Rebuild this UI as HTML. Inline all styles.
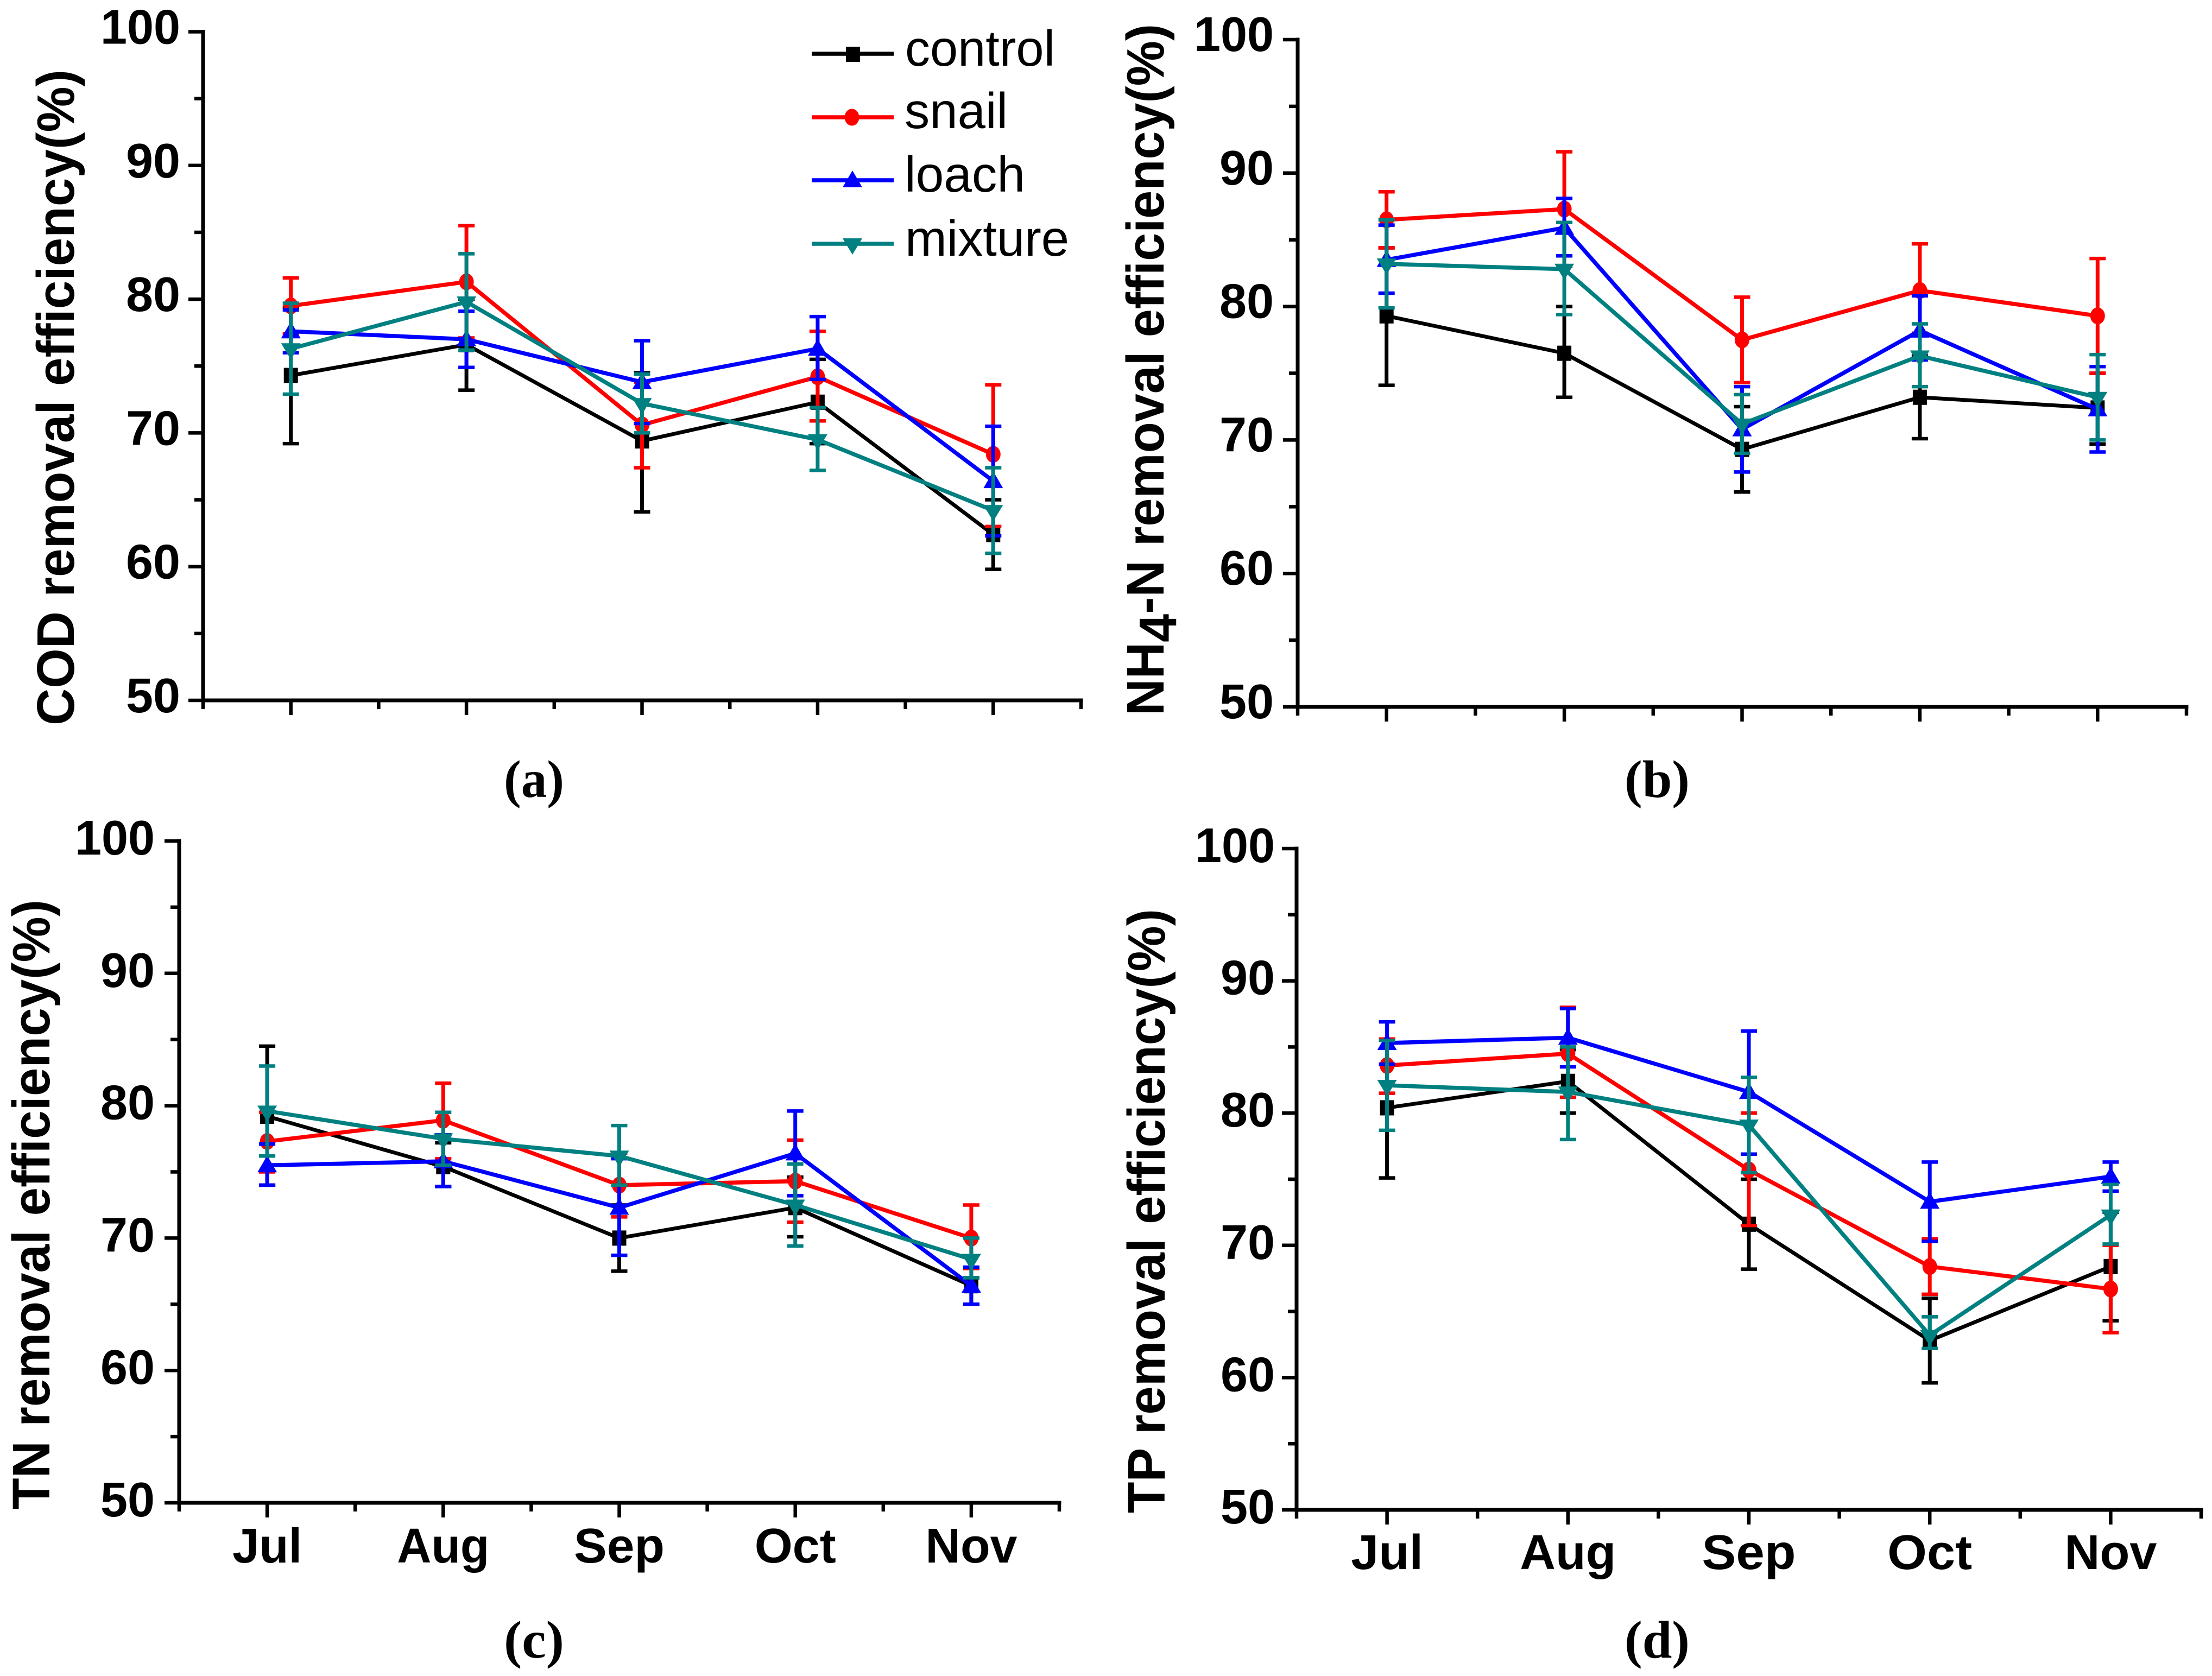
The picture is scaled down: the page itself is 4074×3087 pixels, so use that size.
<!DOCTYPE html>
<html lang="en">
<head>
<meta charset="utf-8">
<title>Removal efficiency charts</title>
<style>
html,body{margin:0;padding:0;background:#fff;}
svg{display:block;}
.tick{font:bold 90px "Liberation Sans",sans-serif;fill:#000;}
.month{font:bold 90px "Liberation Sans",sans-serif;fill:#000;}
.title{font:bold 97px "Liberation Sans",sans-serif;fill:#000;}
.legend{font:93px "Liberation Sans",sans-serif;fill:#000;}
.cap{font:bold 98px "Liberation Serif",serif;fill:#000;}
</style>
</head>
<body>
<svg id="chart" xmlns="http://www.w3.org/2000/svg" width="4074" height="3087" viewBox="0 0 4074 3087">
<rect x="0" y="0" width="4074" height="3087" fill="#fff"/>

<text class="title" transform="translate(136,1336) rotate(-90)" textLength="1208" lengthAdjust="spacingAndGlyphs">COD removal efficiency(%)</text>
<text class="title" transform="translate(2143,1318) rotate(-90)" textLength="1274" lengthAdjust="spacingAndGlyphs">NH<tspan dy="23">4</tspan><tspan dy="-23">-N removal efficiency(%)</tspan></text>
<text class="title" transform="translate(91,2780) rotate(-90)" textLength="1123" lengthAdjust="spacingAndGlyphs">TN removal efficiency(%)</text>
<text class="title" transform="translate(2145,2787) rotate(-90)" textLength="1113" lengthAdjust="spacingAndGlyphs">TP removal efficiency(%)</text>

<text class="cap" x="928" y="1468" textLength="111" lengthAdjust="spacingAndGlyphs">(a)</text>
<text class="cap" x="2992" y="1468" textLength="120" lengthAdjust="spacingAndGlyphs">(b)</text>
<text class="cap" x="928" y="3053" textLength="111" lengthAdjust="spacingAndGlyphs">(c)</text>
<text class="cap" x="2992" y="3053" textLength="120" lengthAdjust="spacingAndGlyphs">(d)</text>

<g id="panels"></g>

<g>
  <g>
    <line x1="1495" x2="1646" y1="99" y2="99" stroke="#000" stroke-width="7.5"/>
    <rect x="1558" y="86" width="26" height="28" fill="#000"/>
    <text class="legend" x="1667" y="121" textLength="276" lengthAdjust="spacingAndGlyphs">control</text>
  </g>
  <g>
    <line x1="1495" x2="1646" y1="216" y2="216" stroke="#f00" stroke-width="7.5"/>
    <ellipse cx="1569" cy="216" rx="13.5" ry="15.5" fill="#f00"/>
    <text class="legend" x="1666" y="236" textLength="190" lengthAdjust="spacingAndGlyphs">snail</text>
  </g>
  <g>
    <line x1="1495" x2="1646" y1="332" y2="332" stroke="#00f" stroke-width="7.5"/>
    <polygon points="1570,314 1588,345 1552,345" fill="#00f"/>
    <text class="legend" x="1666" y="353" textLength="222" lengthAdjust="spacingAndGlyphs">loach</text>
  </g>
  <g>
    <line x1="1495" x2="1646" y1="449" y2="449" stroke="#008080" stroke-width="7.5"/>
    <polygon points="1552,439 1588,439 1570,469" fill="#008080"/>
    <text class="legend" x="1667" y="471" textLength="302" lengthAdjust="spacingAndGlyphs">mixture</text>
  </g>
</g>
</svg>

<script>
const months = ['Jul', 'Aug', 'Sep', 'Oct', 'Nov'];
const yTickLabels = [100, 90, 80, 70, 60, 50];
const yMinorTicks = [95, 85, 75, 65, 55];
const monthTextWidthsC = [128, 170, 167, 150, 169];
const monthTextWidthsD = [133, 177, 173, 156, 170];

// (a) COD
const codControl = [74.3, 76.6, 69.4, 72.3, 62.4];
const codControlHi = [79.4, 80.0, 74.5, 75.5, 65.0];
const codControlLo = [69.2, 73.2, 64.1, 69.2, 59.8];
const codSnail = [79.5, 81.3, 70.6, 74.2, 68.4];
const codSnailHi = [81.6, 85.5, 73.8, 77.6, 73.6];
const codSnailLo = [77.4, 77.1, 67.4, 70.9, 63.0];
const codLoach = [77.6, 77.0, 73.8, 76.3, 66.4];
const codLoachHi = [79.2, 79.1, 76.9, 78.7, 70.5];
const codLoachLo = [76.0, 74.9, 70.7, 74.0, 62.3];
const codMixture = [76.3, 79.8, 72.2, 69.5, 64.2];
const codMixtureHi = [79.7, 83.4, 74.4, 71.9, 67.4];
const codMixtureLo = [72.9, 76.2, 70.0, 67.2, 61.0];

// (b) NH4-N
const nhControl = [79.3, 76.5, 69.3, 73.2, 72.4];
const nhControlHi = [84.4, 80.0, 72.5, 76.3, 75.0];
const nhControlLo = [74.1, 73.2, 66.1, 70.1, 69.7];
const nhSnail = [86.5, 87.3, 77.5, 81.2, 79.3];
const nhSnailHi = [88.6, 91.6, 80.7, 84.7, 83.6];
const nhSnailLo = [84.4, 83.0, 74.3, 78.0, 75.0];
const nhLoach = [83.5, 85.9, 70.8, 78.2, 72.3];
const nhLoachHi = [86.1, 88.1, 74.0, 80.8, 75.5];
const nhLoachLo = [81.0, 83.8, 67.6, 76.0, 69.1];
const nhMixture = [83.2, 82.8, 71.2, 76.3, 73.2];
const nhMixtureHi = [86.5, 86.3, 73.4, 78.7, 76.4];
const nhMixtureLo = [79.9, 79.4, 69.0, 74.0, 70.0];

// (c) TN
const tnControl = [79.2, 75.4, 70.0, 72.3, 66.4];
const tnControlHi = [84.5, 77.2, 72.5, 74.6, 67.0];
const tnControlLo = [74.0, 73.9, 67.5, 70.1, 65.0];
const tnSnail = [77.3, 78.9, 74.0, 74.3, 70.0];
const tnSnailHi = [79.5, 81.7, 76.4, 77.4, 72.5];
const tnSnailLo = [75.0, 76.0, 71.6, 71.2, 67.7];
const tnLoach = [75.5, 75.8, 72.3, 76.4, 66.4];
const tnLoachHi = [77.1, 77.8, 76.0, 79.6, 67.8];
const tnLoachLo = [74.0, 73.9, 68.7, 73.2, 65.0];
const tnMixture = [79.6, 77.5, 76.2, 72.5, 68.4];
const tnMixtureHi = [83.0, 79.5, 78.5, 75.6, 70.0];
const tnMixtureLo = [76.2, 75.5, 74.0, 69.4, 67.0];

// (d) TP
const tpControl = [80.4, 82.4, 71.6, 62.8, 68.4];
const tpControlHi = [85.5, 84.8, 75.0, 66.0, 72.5];
const tpControlLo = [75.1, 80.0, 68.2, 59.6, 64.3];
const tpSnail = [83.6, 84.5, 75.7, 68.4, 66.7];
const tpSnailHi = [85.6, 88.0, 80.0, 70.5, 70.0];
const tpSnailLo = [81.5, 81.2, 71.5, 66.3, 63.4];
const tpLoach = [85.3, 85.7, 81.6, 73.3, 75.2];
const tpLoachHi = [86.9, 87.9, 86.2, 76.3, 76.3];
const tpLoachLo = [83.7, 83.5, 76.9, 70.3, 74.1];
const tpMixture = [82.1, 81.6, 79.1, 63.2, 72.3];
const tpMixtureHi = [85.5, 85.0, 82.7, 64.6, 74.6];
const tpMixtureLo = [78.7, 78.0, 75.5, 62.2, 70.1];

const NS = 'http://www.w3.org/2000/svg';
const root = document.getElementById('panels');

function make(tag, attrs, parent) {
  const el = document.createElementNS(NS, tag);
  for (const k in attrs) el.setAttribute(k, attrs[k]);
  parent.appendChild(el);
  return el;
}

function seriesList(ctl, ctlHi, ctlLo, sn, snHi, snLo, lo, loHi, loLo, mx, mxHi, mxLo) {
  return [
    { name: 'control', color: '#000000', shape: 'square', lw: 7, v: ctl, hi: ctlHi, lo: ctlLo },
    { name: 'snail', color: '#ff0000', shape: 'circle', lw: 7.5, v: sn, hi: snHi, lo: snLo },
    { name: 'loach', color: '#0000ff', shape: 'up', lw: 7.5, v: lo, hi: loHi, lo: loLo },
    { name: 'mixture', color: '#008080', shape: 'down', lw: 7.5, v: mx, hi: mxHi, lo: mxLo }
  ];
}

const panels = [
  { id: 'cod', left: 374, right: 1991, top: 58.5, bottom: 1290, labelRight: 332, labelDy: 22, monthBase: null, monthW: null,
    series: seriesList(codControl, codControlHi, codControlLo, codSnail, codSnailHi, codSnailLo, codLoach, codLoachHi, codLoachLo, codMixture, codMixtureHi, codMixtureLo) },
  { id: 'nh4', left: 2390, right: 4027, top: 73, bottom: 1302, labelRight: 2346, labelDy: 21, monthBase: null, monthW: null,
    series: seriesList(nhControl, nhControlHi, nhControlLo, nhSnail, nhSnailHi, nhSnailLo, nhLoach, nhLoachHi, nhLoachLo, nhMixture, nhMixtureHi, nhMixtureLo) },
  { id: 'tn', left: 330, right: 1951, top: 1549, bottom: 2768, labelRight: 285, labelDy: 25, monthBase: 2878, monthW: monthTextWidthsC,
    series: seriesList(tnControl, tnControlHi, tnControlLo, tnSnail, tnSnailHi, tnSnailLo, tnLoach, tnLoachHi, tnLoachLo, tnMixture, tnMixtureHi, tnMixtureLo) },
  { id: 'tp', left: 2388, right: 4054, top: 1563, bottom: 2781, labelRight: 2348, labelDy: 25, monthBase: 2890, monthW: monthTextWidthsD,
    series: seriesList(tpControl, tpControlHi, tpControlLo, tpSnail, tpSnailHi, tpSnailLo, tpLoach, tpLoachHi, tpLoachLo, tpMixture, tpMixtureHi, tpMixtureLo) }
];

function xScale(p, i) {
  return p.left + (i + 0.5) * (p.right - p.left) / months.length;
}
function yScale(p, v) {
  return p.bottom - (v - 50) * (p.bottom - p.top) / 50;
}

function drawMarker(s, x, y, g) {
  let m;
  if (s.shape === 'square') {
    m = make('rect', { x: x - 13, y: y - 14, width: 26, height: 28, fill: s.color }, g);
  } else if (s.shape === 'circle') {
    m = make('ellipse', { cx: x, cy: y, rx: 13.5, ry: 15.5, fill: s.color }, g);
  } else if (s.shape === 'up') {
    m = make('polygon', { points: [x, y - 18, x + 18, y + 13, x - 18, y + 13].join(' '), fill: s.color }, g);
  } else {
    m = make('polygon', { points: [x - 18, y - 10, x + 18, y - 10, x, y + 20].join(' '), fill: s.color }, g);
  }
  
  
}

function drawAxes(p, g) {
  const xAxis = make('line', { x1: p.left - 3.5, x2: p.right + 3.5, y1: p.bottom, y2: p.bottom, stroke: '#000', 'stroke-width': 7 }, g);
  
  
  const yAxis = make('line', { x1: p.left, x2: p.left, y1: p.top - 3.5, y2: p.bottom + 3.5, stroke: '#000', 'stroke-width': 7 }, g);
  
  

  yTickLabels.forEach(function (v) {
    const y = yScale(p, v);
    const t = make('line', { x1: p.left - 27, x2: p.left, y1: y, y2: y, stroke: '#000', 'stroke-width': 6.5 }, g);
    
    
    const w = String(v).length === 3 ? 147 : 100;
    const lab = make('text', { class: 'tick', x: p.labelRight - w, y: y + p.labelDy, textLength: w, lengthAdjust: 'spacingAndGlyphs' }, g);
    lab.textContent = String(v);
    
    
  });
  yMinorTicks.forEach(function (v) {
    const y = yScale(p, v);
    const t = make('line', { x1: p.left - 16, x2: p.left, y1: y, y2: y, stroke: '#000', 'stroke-width': 6.5 }, g);
    
    
  });
  months.forEach(function (mName, i) {
    const x = xScale(p, i);
    const t = make('line', { x1: x, x2: x, y1: p.bottom, y2: p.bottom + 27, stroke: '#000', 'stroke-width': 6.5 }, g);
    
    
    if (p.monthBase !== null) {
      const w = p.monthW[i];
      const lab = make('text', { class: 'month', x: x - w / 2, y: p.monthBase, textLength: w, lengthAdjust: 'spacingAndGlyphs' }, g);
      lab.textContent = mName;
      
      
    }
  });
  for (let i = 0; i <= months.length; i++) {
    const x = xScale(p, i - 0.5);
    const t = make('line', { x1: x, x2: x, y1: p.bottom, y2: p.bottom + 16, stroke: '#000', 'stroke-width': 6.5 }, g);
    
    
  }
}

function drawSeries(p, s, g) {
  const sg = make('g', {}, g);
  
  

  const pts = s.v.map(function (v, i) { return xScale(p, i) + ',' + yScale(p, v); }).join(' ');
  const line = make('polyline', { points: pts, fill: 'none', stroke: s.color, 'stroke-width': s.lw, 'stroke-linejoin': 'miter' }, sg);
  
  

  s.v.forEach(function (v, i) {
    drawMarker(s, xScale(p, i), yScale(p, v), sg);
  });

  s.v.forEach(function (v, i) {
    const x = xScale(p, i);
    const yHi = yScale(p, s.hi[i]);
    const yLo = yScale(p, s.lo[i]);
    const bar = make('line', { x1: x, x2: x, y1: yHi, y2: yLo, stroke: s.color, 'stroke-width': 7 }, sg);
    
    
    const capHi = make('line', { x1: x - 15, x2: x + 15, y1: yHi, y2: yHi, stroke: s.color, 'stroke-width': 6.5 }, sg);
    
    
    const capLo = make('line', { x1: x - 15, x2: x + 15, y1: yLo, y2: yLo, stroke: s.color, 'stroke-width': 6.5 }, sg);
    
    
  });
}

panels.forEach(function (p) {
  const g = make('g', {}, root);
  
  
  drawAxes(p, g);
  p.series.forEach(function (s) { drawSeries(p, s, g); });
});
</script>
</body>
</html>
